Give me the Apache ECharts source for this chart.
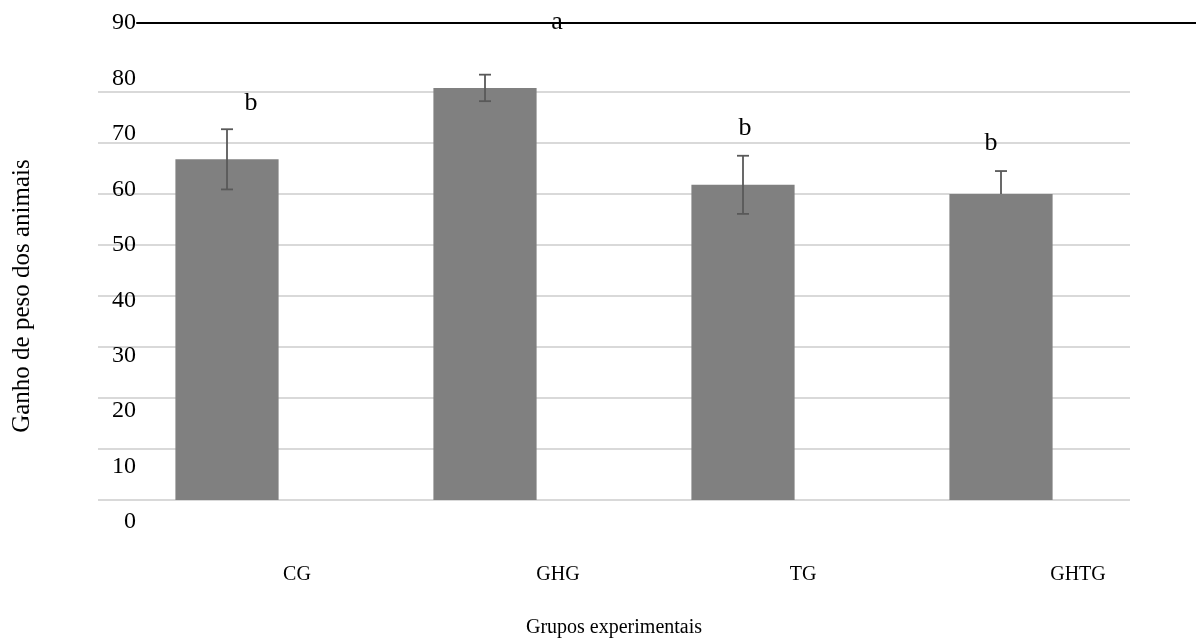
<!DOCTYPE html>
<html><head><meta charset="utf-8">
<script src="https://cdn.jsdelivr.net/npm/echarts@6/dist/echarts.min.js"></script>
<style>html,body{margin:0;padding:0;background:#fff}#c{width:1196px;height:643px}</style>
</head><body><div id="c"></div>
<script>
const categories = ['CG', 'GHG', 'TG', 'GHTG'];
const means = [66.8, 80.8, 61.8, 60.0];
const errPlus = [5.9, 2.6, 5.7, 4.5];
const errMinus = [5.9, 2.6, 5.7, 0];
const letters = ['b', 'a', 'b', 'b'];
const letterY = [77.8, 93.7, 72.9, 70.0];
const labelTicks = [0, 10, 20, 30, 40, 50, 60, 70, 80, 90];

const FONT = '"Liberation Serif", "DejaVu Serif", serif';
const letterOffsets = [[24, 0], [72, 0], [2, 0], [-10, 0]];
const catShift = [70, 73, 60, 77];

const chart = echarts.init(document.getElementById('c'), null, {renderer: 'canvas'});
chart.setOption({
  animation: false,
  backgroundColor: '#fff',
  grid: [
    {left: 98, right: 66, top: 92, bottom: 143},
    {left: 137, right: 0, top: 23, bottom: 121}
  ],
  xAxis: [
    {type: 'category', gridIndex: 0,
     data: categories.map((c, i) => ({value: c, textStyle: {padding: [0, 0, 0, 2 * catShift[i]]}})),
     axisLine: {show: false}, axisTick: {show: false},
     axisLabel: {margin: 65, color: '#000', fontFamily: FONT, fontSize: 20},
     name: 'Grupos experimentais', nameLocation: 'middle', nameGap: 118,
     nameTextStyle: {color: '#000', fontFamily: FONT, fontSize: 20}},
    {type: 'value', gridIndex: 1, position: 'top', min: 0, max: 1,
     axisLine: {show: true, onZero: false, lineStyle: {color: '#000', width: 2}},
     axisTick: {show: false}, axisLabel: {show: false}, splitLine: {show: false}}
  ],
  yAxis: [
    {type: 'value', gridIndex: 0, min: 0, max: 80, interval: 10,
     axisLine: {show: false}, axisTick: {show: false}, axisLabel: {show: false},
     splitLine: {show: true, lineStyle: {color: '#d9d9d9', width: 2}},
     name: 'Ganho de peso dos animais', nameLocation: 'middle', nameGap: 63,
     nameTextStyle: {color: '#000', fontFamily: FONT, fontSize: 25}},
    {type: 'value', gridIndex: 1, min: labelTicks[0], max: labelTicks[labelTicks.length - 1], interval: 10,
     axisLine: {show: false}, axisTick: {show: false}, splitLine: {show: false},
     axisLabel: {margin: 1, color: '#000', fontFamily: FONT, fontSize: 24}}
  ],
  series: [
    {type: 'bar', xAxisIndex: 0, yAxisIndex: 0, data: means, barWidth: '40%', clip: false,
     itemStyle: {color: '#808080'}},
    {type: 'custom', xAxisIndex: 0, yAxisIndex: 0, z: 5, clip: false,
     data: means.map((m, i) => [i, m + errPlus[i], m - errMinus[i]]),
     renderItem: function (params, api) {
       const x = api.value(0);
       const hi = api.coord([x, api.value(1)]);
       const lo = api.coord([x, api.value(2)]);
       const w = 6;
       const style = {stroke: '#595959', lineWidth: 1.8};
       const children = [
         {type: 'line', shape: {x1: hi[0], y1: hi[1], x2: lo[0], y2: lo[1]}, style},
         {type: 'line', shape: {x1: hi[0] - w, y1: hi[1], x2: hi[0] + w, y2: hi[1]}, style}
       ];
       if (api.value(2) < means[params.dataIndex]) {
         children.push({type: 'line', shape: {x1: lo[0] - w, y1: lo[1], x2: lo[0] + w, y2: lo[1]}, style});
       }
       return {type: 'group', children};
     }},
    {type: 'custom', xAxisIndex: 0, yAxisIndex: 0, z: 10, clip: false, silent: true,
     data: letterY.map((v, i) => [i, v]),
     renderItem: function (params, api) {
       const p = api.coord([api.value(0), api.value(1)]);
       const o = letterOffsets[params.dataIndex];
       return {type: 'text', x: p[0] + o[0], y: p[1] + o[1],
         style: {text: letters[params.dataIndex], fill: '#000', font: '26px ' + FONT,
                 textAlign: 'center', textVerticalAlign: 'middle'}};
     }}
  ]
});
</script></body></html>
